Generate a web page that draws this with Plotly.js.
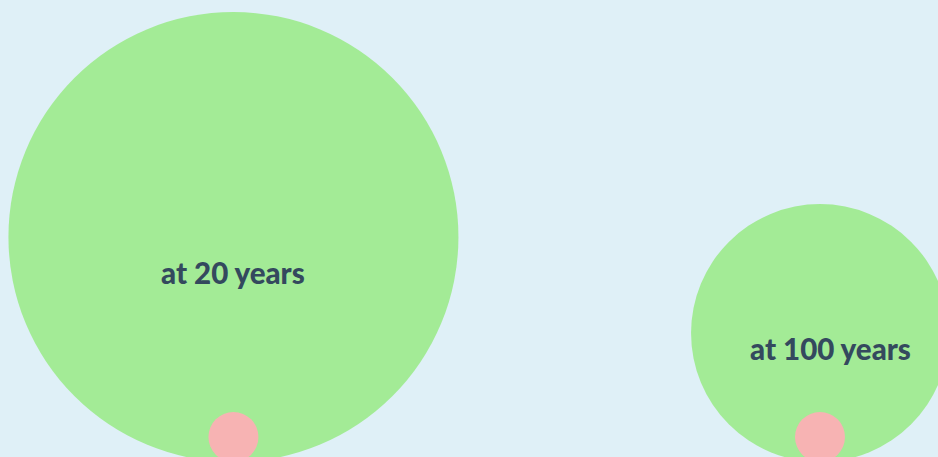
<!DOCTYPE html>
<html>
<head>
<meta charset="utf-8">
<script src="https://cdn.plot.ly/plotly-3.0.1.min.js"></script>
<style>html,body{margin:0;padding:0;background:#dff0f7;}#chart{width:938px;height:457px;}</style>
</head>
<body>
<div id="chart"></div>
<script>
// Data
const categories = ["at 20 years", "at 100 years"];
const outerValues = [81, 26.6];   // relative area of the large (green) bubbles
const innerValues = [1, 1];       // relative area of the small (pink) bubbles
const labels = ["at 20 years", "at 100 years"];

// Styling / layout helpers
const PX_PER_UNIT = 25;           // pixels per sqrt-unit of bubble radius
const radiusUnits = v => Math.sqrt(v);
const diameterPx = v => 2 * PX_PER_UNIT * Math.sqrt(v);

const outerTrace = {
  type: "scatter", mode: "markers",
  x: categories,
  y: outerValues.map(radiusUnits),
  marker: { size: outerValues.map(diameterPx), sizemode: "diameter", color: "#a3eb96", line: { width: 0 }, opacity: 1 },
  hoverinfo: "skip", showlegend: false
};
const innerTrace = {
  type: "scatter", mode: "markers",
  x: categories,
  y: innerValues.map(radiusUnits),
  marker: { size: innerValues.map(diameterPx), sizemode: "diameter", color: "#f7b3b3", line: { width: 0 }, opacity: 1 },
  hoverinfo: "skip", showlegend: false
};

const layout = {
  width: 938, height: 457,
  margin: { l: 0, r: 0, t: 0, b: 0, pad: 0 },
  paper_bgcolor: "#dff0f7", plot_bgcolor: "#dff0f7",
  showlegend: false,
  xaxis: { type: "category", range: [-0.398, 1.2012], visible: false, showgrid: false, zeroline: false, fixedrange: true },
  yaxis: { range: [0.2, 18.48], visible: false, showgrid: false, zeroline: false, fixedrange: true },
  annotations: [
    { x: categories[0], y: 7.6, xref: "x", yref: "y", text: labels[0], showarrow: false,
      font: { family: "Lato, sans-serif", size: 29.5, color: "#34495e", weight: 900 } },
    { x: categories[1], y: 4.56, xref: "x", yref: "y", text: labels[1], showarrow: false, xshift: 11,
      font: { family: "Lato, sans-serif", size: 29.5, color: "#34495e", weight: 900 } }
  ],
  hovermode: false
};

Plotly.newPlot("chart", [outerTrace, innerTrace], layout, { displayModeBar: false, staticPlot: true });
</script>
</body>
</html>
